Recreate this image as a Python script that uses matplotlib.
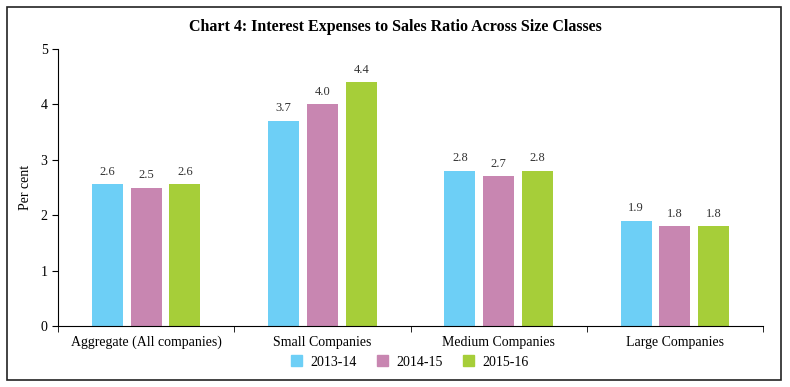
import matplotlib
matplotlib.use('Agg')
import matplotlib.pyplot as plt
import numpy as np

# data
categories = ["Aggregate (All companies)", "Small Companies", "Medium Companies", "Large Companies"]
years = ["2013-14", "2014-15", "2015-16"]
v_2013 = [2.56, 3.7, 2.8, 1.9]
v_2014 = [2.50, 4.0, 2.7, 1.8]
v_2015 = [2.56, 4.4, 2.8, 1.8]
colors = ["#6DCFF6", "#C886B1", "#A6CE39"]

plt.rcParams['font.family'] = ['Liberation Serif', 'DejaVu Serif']

fig = plt.figure(figsize=(7.9, 3.87), dpi=100)
ax = fig.add_axes([58/790, 1 - 326/387, (763 - 58)/790, (326 - 49)/387])

x = np.arange(len(categories))
width = 0.176
offsets = [-0.22, 0, 0.22]
for vals, off, c, lab in zip([v_2013, v_2014, v_2015], offsets, colors, years):
    bars = ax.bar(x + off, vals, width, color=c, label=lab)
    for b, v in zip(bars, vals):
        ax.text(b.get_x() + b.get_width() / 2, v + 0.12, f"{v:.1f}",
                ha='center', va='bottom', fontsize=9, color='#333333')

ax.set_xlim(-0.5, len(categories) - 0.5)
ax.set_ylim(0, 5)
ax.set_yticks(range(6))
ax.set_xticks(x)
ax.set_xticklabels(categories, fontsize=10)
ax.tick_params(axis='x', length=0, pad=7)
ax.set_xticks(np.arange(len(categories) + 1) - 0.5, minor=True)
ax.tick_params(axis='x', which='minor', length=4, direction='out')
ax.tick_params(axis='y', length=4, labelsize=10)
for s in ['top', 'right']:
    ax.spines[s].set_visible(False)
ax.set_ylabel("Per cent", fontsize=10, labelpad=6)

fig.text(395/790, 1 - 27/387, "Chart 4: Interest Expenses to Sales Ratio Across Size Classes",
         ha='center', va='center', fontsize=11.5, fontweight='bold')

handles = [plt.Rectangle((0, 0), 1, 1, color=c) for c in colors]
fig.legend(handles, years, loc='center', bbox_to_anchor=(410/790, 1 - 362/387),
           ncol=3, frameon=False, fontsize=10, handlelength=0.8, handleheight=0.8,
           columnspacing=1.45, handletextpad=0.6)

border = plt.Rectangle((7/790, 7/387), 774/790, 373/387, transform=fig.transFigure,
                       fill=False, edgecolor='#222222', linewidth=1.2)
fig.patches.append(border)

fig.savefig("out.png", dpi=100)
